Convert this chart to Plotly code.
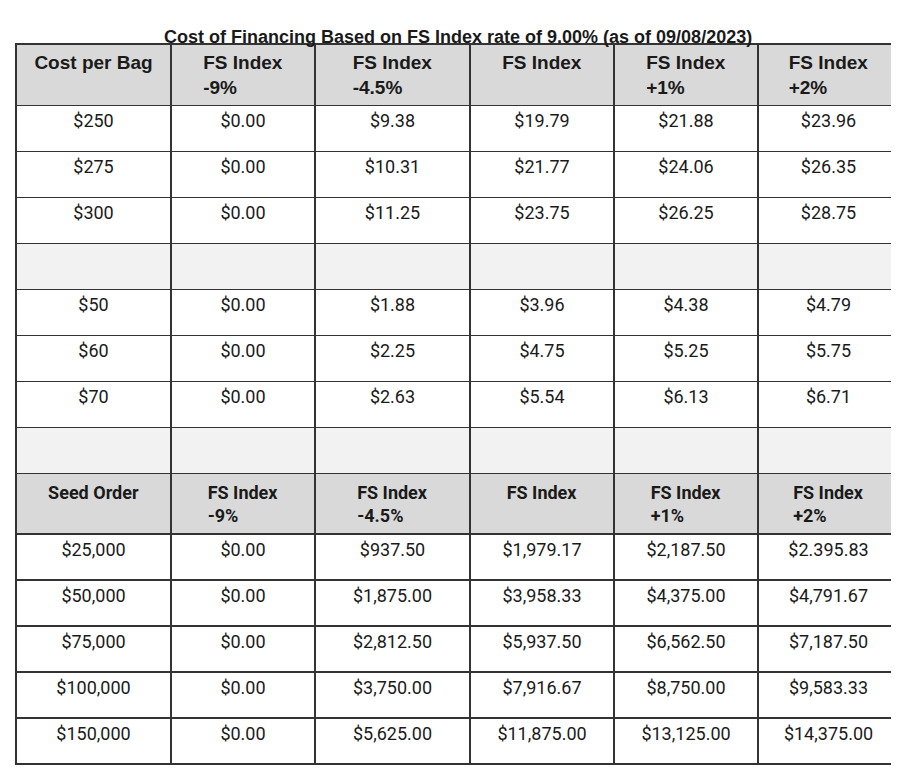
import plotly.graph_objects as go

title = "Cost of Financing Based on FS Index rate of 9.00% (as of 09/08/2023)"
head_cols = ["FS Index<br>-9%", "FS Index<br>-4.5%", "FS Index", "FS Index<br>+1%", "FS Index<br>+2%"]
bag_costs = ["$250", "$275", "$300", "", "$50", "$60", "$70", ""]
bag_vals = [
    ["$0.00", "$9.38", "$19.79", "$21.88", "$23.96"],
    ["$0.00", "$10.31", "$21.77", "$24.06", "$26.35"],
    ["$0.00", "$11.25", "$23.75", "$26.25", "$28.75"],
    ["", "", "", "", ""],
    ["$0.00", "$1.88", "$3.96", "$4.38", "$4.79"],
    ["$0.00", "$2.25", "$4.75", "$5.25", "$5.75"],
    ["$0.00", "$2.63", "$5.54", "$6.13", "$6.71"],
    ["", "", "", "", ""],
]
seed_orders = ["$25,000", "$50,000", "$75,000", "$100,000", "$150,000"]
seed_vals = [
    ["$0.00", "$937.50", "$1,979.17", "$2,187.50", "$2.395.83"],
    ["$0.00", "$1,875.00", "$3,958.33", "$4,375.00", "$4,791.67"],
    ["$0.00", "$2,812.50", "$5,937.50", "$6,562.50", "$7,187.50"],
    ["$0.00", "$3,750.00", "$7,916.67", "$8,750.00", "$9,583.33"],
    ["$0.00", "$5,625.00", "$11,875.00", "$13,125.00", "$14,375.00"],
]

rows = [[c] + v for c, v in zip(bag_costs, bag_vals)]
rows.append(["<b>Seed Order</b>"] + ["<b>" + h + "</b>" for h in head_cols])
rows += [[c] + v for c, v in zip(seed_orders, seed_vals)]

fills = []
for i, r in enumerate(rows):
    if i in (3, 7):
        fills.append("#f2f2f2")
    elif i == 8:
        fills.append("#d9d9d9")
    else:
        fills.append("white")

columns = [[r[j] for r in rows] for j in range(6)]
fill_cols = [fills for _ in range(6)]

fig = go.Figure(go.Table(
    domain=dict(x=[8/899, 891/899], y=[0, 747/783]),
    columnwidth=[155, 144, 155, 144, 144, 141],
    header=dict(
        values=["<b>Cost per Bag</b>"] + ["<b>" + h + "</b>" for h in head_cols],
        fill_color="#d9d9d9",
        line=dict(color="#333333", width=1.5),
        font=dict(family="Liberation Sans, Arial", size=19, color="#1a1a1a"),
        align="center", height=58,
    ),
    cells=dict(
        values=columns,
        fill_color=fill_cols,
        line=dict(color="#333333", width=1.5),
        font=dict(family="Liberation Sans Narrow, Roboto, Arial", size=18, color="#1a1a1a"),
        align="center", height=46,
    ),
))
fig.update_layout(
    width=899, height=783,
    margin=dict(l=0, r=0, t=0, b=0),
    paper_bgcolor="white",
    annotations=[dict(text="<b>" + title + "</b>", x=0.5, y=1 - 17/783, xref="paper", yref="paper",
                      showarrow=False, font=dict(family="Liberation Sans, Arial", size=18, color="#1a1a1a"))],
)
fig.write_html("out.html")
